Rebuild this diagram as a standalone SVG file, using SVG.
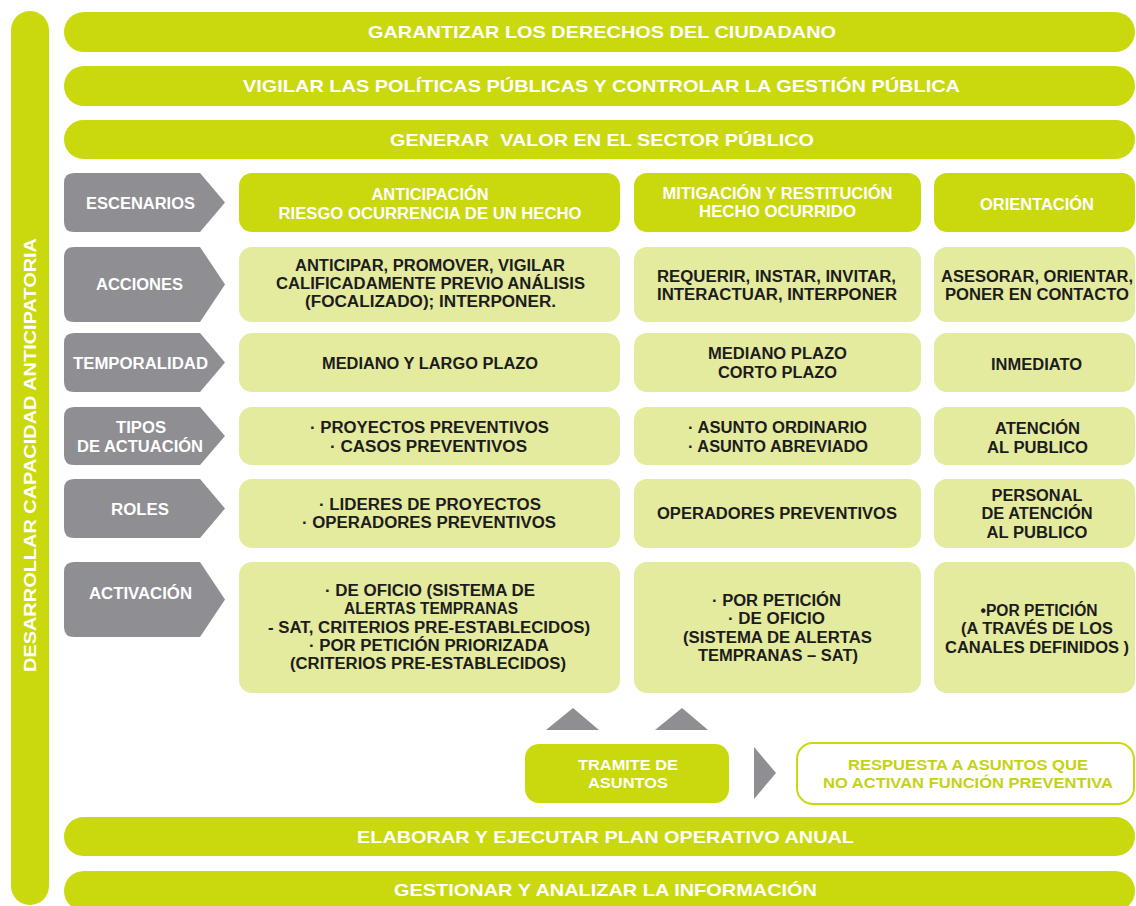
<svg xmlns="http://www.w3.org/2000/svg" width="1136" height="906" viewBox="0 0 1136 906">
<style>
.lime{fill:#CAD80E}
.pale{fill:#E4EA9E}
.grey{fill:#8E8E93}
.t{font-family:"Liberation Sans",Arial,sans-serif;font-weight:bold;text-anchor:middle;font-size:16px}
.big{font-size:17px}
.sm{font-size:14.5px}
.w{fill:#FFFFFF}
.k{fill:#1C1C1C}
.gl{fill:#C4D213}
.outline{fill:#FFFFFF;stroke:#CAD80E;stroke-width:2}
</style>
<rect width="1136" height="906" fill="#FFFFFF"/>

<g id="side">
<rect class="lime" x="11" y="11" width="38" height="894" rx="19"/>
<text class="t big w" x="30" y="461" transform="rotate(-90 30 455)" textLength="434" lengthAdjust="spacingAndGlyphs">DESARROLLAR CAPACIDAD ANTICIPATORIA</text>
</g>

<g id="bar-garantizar">
<rect class="lime" x="64" y="12" width="1071" height="40" rx="20"/>
<text class="t big w" x="602" y="38" textLength="468" lengthAdjust="spacingAndGlyphs">GARANTIZAR LOS DERECHOS DEL CIUDADANO</text>
</g>
<g id="bar-vigilar">
<rect class="lime" x="64" y="66" width="1071" height="40" rx="20"/>
<text class="t big w" x="601.5" y="92" textLength="717" lengthAdjust="spacingAndGlyphs">VIGILAR LAS POLÍTICAS PÚBLICAS Y CONTROLAR LA GESTIÓN PÚBLICA</text>
</g>
<g id="bar-generar">
<rect class="lime" x="64" y="120" width="1071" height="39" rx="19.5"/>
<text class="t big w" x="602" y="145.5" textLength="424" lengthAdjust="spacingAndGlyphs" style="white-space:pre">GENERAR  VALOR EN EL SECTOR PÚBLICO</text>
</g>

<!-- Row labels (grey arrows) -->
<g id="lbl-escenarios">
<path class="grey" d="M74 173H200L225 202.5L200 232H74Q64 232 64 222V183Q64 173 74 173Z"/>
<text class="t w" x="140.5" y="209.3" textLength="109" lengthAdjust="spacingAndGlyphs">ESCENARIOS</text>
</g>
<g id="lbl-acciones">
<path class="grey" d="M74 247H200L225 284.5L200 322H74Q64 322 64 312V257Q64 247 74 247Z"/>
<text class="t w" x="139.5" y="290.3" textLength="87" lengthAdjust="spacingAndGlyphs">ACCIONES</text>
</g>
<g id="lbl-temporalidad">
<path class="grey" d="M74 333H200L225 362.5L200 392H74Q64 392 64 382V343Q64 333 74 333Z"/>
<text class="t w" x="140.5" y="368.8" textLength="135" lengthAdjust="spacingAndGlyphs">TEMPORALIDAD</text>
</g>
<g id="lbl-tipos">
<path class="grey" d="M74 407H200L225 436L200 465H74Q64 465 64 455V417Q64 407 74 407Z"/>
<text class="t w" x="141" y="432.8" textLength="50" lengthAdjust="spacingAndGlyphs">TIPOS</text>
<text class="t w" x="140" y="451.8" textLength="126" lengthAdjust="spacingAndGlyphs">DE ACTUACIÓN</text>
</g>
<g id="lbl-roles">
<path class="grey" d="M74 479H200L225 508.5L200 538H74Q64 538 64 528V489Q64 479 74 479Z"/>
<text class="t w" x="140" y="514.8" textLength="58" lengthAdjust="spacingAndGlyphs">ROLES</text>
</g>
<g id="lbl-activacion">
<path class="grey" d="M74 562H200L225 599.5L200 637H74Q64 637 64 627V572Q64 562 74 562Z"/>
<text class="t w" x="140.5" y="598.8" textLength="103" lengthAdjust="spacingAndGlyphs">ACTIVACIÓN</text>
</g>

<!-- Column headers -->
<g id="hdr-anticipacion">
<rect class="lime" x="239" y="173" width="381" height="59" rx="13"/>
<text class="t w" x="430" y="199.6" textLength="117" lengthAdjust="spacingAndGlyphs">ANTICIPACIÓN</text>
<text class="t w" x="430" y="218.6" textLength="303" lengthAdjust="spacingAndGlyphs">RIESGO OCURRENCIA DE UN HECHO</text>
</g>
<g id="hdr-mitigacion">
<rect class="lime" x="634" y="173" width="287" height="59" rx="13"/>
<text class="t w" x="777.5" y="198.6" textLength="230" lengthAdjust="spacingAndGlyphs">MITIGACIÓN Y RESTITUCIÓN</text>
<text class="t w" x="777.5" y="216.6" textLength="157" lengthAdjust="spacingAndGlyphs">HECHO OCURRIDO</text>
</g>
<g id="hdr-orientacion">
<rect class="lime" x="934" y="173" width="201" height="59" rx="13"/>
<text class="t w" x="1037" y="210.2" textLength="114" lengthAdjust="spacingAndGlyphs">ORIENTACIÓN</text>
</g>

<!-- Acciones row -->
<g id="acc-1">
<rect class="pale" x="239" y="247" width="381" height="75" rx="13"/>
<text class="t k" x="430" y="270.7" textLength="270" lengthAdjust="spacingAndGlyphs">ANTICIPAR, PROMOVER, VIGILAR</text>
<text class="t k" x="430.5" y="288.7" textLength="309" lengthAdjust="spacingAndGlyphs">CALIFICADAMENTE PREVIO ANÁLISIS</text>
<text class="t k" x="430.5" y="306.7" textLength="251" lengthAdjust="spacingAndGlyphs">(FOCALIZADO); INTERPONER.</text>
</g>
<g id="acc-2">
<rect class="pale" x="634" y="247" width="287" height="75" rx="13"/>
<text class="t k" x="776.5" y="281.7" textLength="239" lengthAdjust="spacingAndGlyphs">REQUERIR, INSTAR, INVITAR,</text>
<text class="t k" x="777" y="299.7" textLength="240" lengthAdjust="spacingAndGlyphs">INTERACTUAR, INTERPONER</text>
</g>
<g id="acc-3">
<rect class="pale" x="934" y="247" width="201" height="75" rx="13"/>
<text class="t k" x="1037" y="281.7" textLength="192" lengthAdjust="spacingAndGlyphs">ASESORAR, ORIENTAR,</text>
<text class="t k" x="1037" y="299.7" textLength="184" lengthAdjust="spacingAndGlyphs">PONER EN CONTACTO</text>
</g>

<!-- Temporalidad row -->
<g id="tmp-1">
<rect class="pale" x="239" y="333" width="381" height="59" rx="13"/>
<text class="t k" x="430" y="368.7" textLength="216" lengthAdjust="spacingAndGlyphs">MEDIANO Y LARGO PLAZO</text>
</g>
<g id="tmp-2">
<rect class="pale" x="634" y="333" width="287" height="59" rx="13"/>
<text class="t k" x="777.5" y="358.7" textLength="139" lengthAdjust="spacingAndGlyphs">MEDIANO PLAZO</text>
<text class="t k" x="777.5" y="377.7" textLength="119" lengthAdjust="spacingAndGlyphs">CORTO PLAZO</text>
</g>
<g id="tmp-3">
<rect class="pale" x="934" y="333" width="201" height="59" rx="13"/>
<text class="t k" x="1036.5" y="370.2" textLength="91" lengthAdjust="spacingAndGlyphs">INMEDIATO</text>
</g>

<!-- Tipos row -->
<g id="tip-1">
<rect class="pale" x="239" y="407" width="381" height="58" rx="13"/>
<text class="t k" x="429.5" y="433.2" textLength="239" lengthAdjust="spacingAndGlyphs">· PROYECTOS PREVENTIVOS</text>
<text class="t k" x="428.5" y="451.7" textLength="197" lengthAdjust="spacingAndGlyphs">· CASOS PREVENTIVOS</text>
</g>
<g id="tip-2">
<rect class="pale" x="634" y="407" width="287" height="58" rx="13"/>
<text class="t k" x="777.5" y="432.7" textLength="179" lengthAdjust="spacingAndGlyphs">· ASUNTO ORDINARIO</text>
<text class="t k" x="778" y="451.7" textLength="180" lengthAdjust="spacingAndGlyphs">· ASUNTO ABREVIADO</text>
</g>
<g id="tip-3">
<rect class="pale" x="934" y="407" width="201" height="58" rx="13"/>
<text class="t k" x="1037.5" y="433.7" textLength="85" lengthAdjust="spacingAndGlyphs">ATENCIÓN</text>
<text class="t k" x="1037.5" y="452.7" textLength="101" lengthAdjust="spacingAndGlyphs">AL PUBLICO</text>
</g>

<!-- Roles row -->
<g id="rol-1">
<rect class="pale" x="239" y="479" width="381" height="69" rx="13"/>
<text class="t k" x="430" y="509.7" textLength="222" lengthAdjust="spacingAndGlyphs">· LIDERES DE PROYECTOS</text>
<text class="t k" x="429" y="527.7" textLength="254" lengthAdjust="spacingAndGlyphs">· OPERADORES PREVENTIVOS</text>
</g>
<g id="rol-2">
<rect class="pale" x="634" y="479" width="287" height="69" rx="13"/>
<text class="t k" x="777" y="519.2" textLength="240" lengthAdjust="spacingAndGlyphs">OPERADORES PREVENTIVOS</text>
</g>
<g id="rol-3">
<rect class="pale" x="934" y="479" width="201" height="69" rx="13"/>
<text class="t k" x="1037" y="500.7" textLength="91" lengthAdjust="spacingAndGlyphs">PERSONAL</text>
<text class="t k" x="1037" y="519.2" textLength="111" lengthAdjust="spacingAndGlyphs">DE ATENCIÓN</text>
<text class="t k" x="1037" y="537.7" textLength="101" lengthAdjust="spacingAndGlyphs">AL PUBLICO</text>
</g>

<!-- Activacion row -->
<g id="act-1">
<rect class="pale" x="239" y="562" width="381" height="131" rx="13"/>
<text class="t k" x="430" y="595.7" textLength="210" lengthAdjust="spacingAndGlyphs">· DE OFICIO (SISTEMA DE</text>
<text class="t k" x="431" y="613.7" textLength="174" lengthAdjust="spacingAndGlyphs">ALERTAS TEMPRANAS</text>
<text class="t k" x="429" y="632.7" textLength="322" lengthAdjust="spacingAndGlyphs">- SAT, CRITERIOS PRE-ESTABLECIDOS)</text>
<text class="t k" x="429" y="650.7" textLength="240" lengthAdjust="spacingAndGlyphs">· POR PETICIÓN PRIORIZADA</text>
<text class="t k" x="428" y="668.7" textLength="276" lengthAdjust="spacingAndGlyphs">(CRITERIOS PRE-ESTABLECIDOS)</text>
</g>
<g id="act-2">
<rect class="pale" x="634" y="562" width="287" height="131" rx="13"/>
<text class="t k" x="776.5" y="605.7" textLength="129" lengthAdjust="spacingAndGlyphs">· POR PETICIÓN</text>
<text class="t k" x="776.5" y="623.7" textLength="97" lengthAdjust="spacingAndGlyphs">· DE OFICIO</text>
<text class="t k" x="777.5" y="642.7" textLength="189" lengthAdjust="spacingAndGlyphs">(SISTEMA DE ALERTAS</text>
<text class="t k" x="778" y="660.7" textLength="160" lengthAdjust="spacingAndGlyphs">TEMPRANAS – SAT)</text>
</g>
<g id="act-3">
<rect class="pale" x="934" y="562" width="201" height="131" rx="13"/>
<text class="t k" x="1039" y="615.7" textLength="117" lengthAdjust="spacingAndGlyphs">•POR PETICIÓN</text>
<text class="t k" x="1037" y="633.7" textLength="152" lengthAdjust="spacingAndGlyphs">(A TRAVÉS DE LOS</text>
<text class="t k" x="1037" y="652.7" textLength="184" lengthAdjust="spacingAndGlyphs">CANALES DEFINIDOS )</text>
</g>

<!-- Bottom flow -->
<g id="connectors">
<polygon class="grey" points="546,730 599,730 573,708"/>
<polygon class="grey" points="655,730 708,730 682,708"/>
<polygon class="grey" points="754,747 776,773 754,799"/>
</g>
<g id="tramite">
<rect class="lime" x="525" y="744" width="204" height="59" rx="14"/>
<text class="t sm w" x="628" y="770.2" textLength="100" lengthAdjust="spacingAndGlyphs">TRAMITE DE</text>
<text class="t sm w" x="628" y="788.2" textLength="80" lengthAdjust="spacingAndGlyphs">ASUNTOS</text>
</g>
<g id="respuesta">
<rect class="outline" x="797" y="743" width="337" height="61" rx="16"/>
<text class="t sm gl" x="968" y="770.2" textLength="240" lengthAdjust="spacingAndGlyphs">RESPUESTA A ASUNTOS QUE</text>
<text class="t sm gl" x="968" y="788.2" textLength="290" lengthAdjust="spacingAndGlyphs">NO ACTIVAN FUNCIÓN PREVENTIVA</text>
</g>

<g id="bar-elaborar">
<rect class="lime" x="64" y="817" width="1071" height="39" rx="19.5"/>
<text class="t big w" x="605.5" y="843" textLength="497" lengthAdjust="spacingAndGlyphs">ELABORAR Y EJECUTAR PLAN OPERATIVO ANUAL</text>
</g>
<g id="bar-gestionar">
<rect class="lime" x="64" y="871" width="1071" height="40" rx="20"/>
<text class="t big w" x="605.5" y="896" textLength="423" lengthAdjust="spacingAndGlyphs">GESTIONAR Y ANALIZAR LA INFORMACIÓN</text>
</g>
</svg>
